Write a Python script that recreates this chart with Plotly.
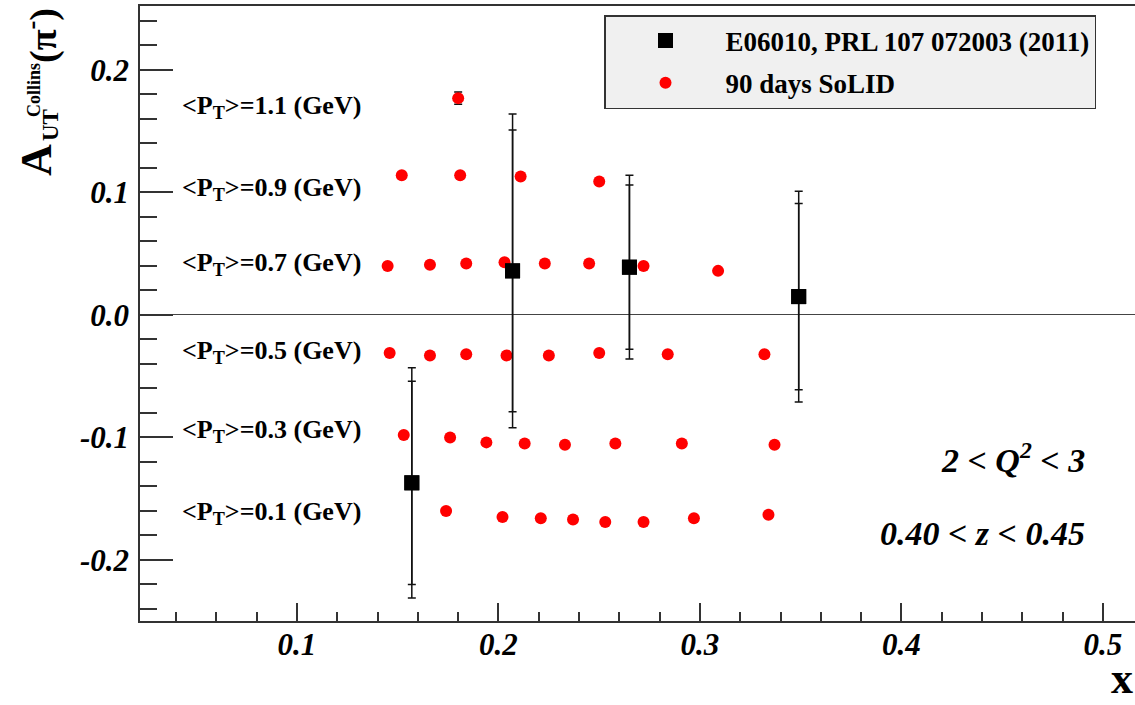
import plotly.graph_objects as go

# E06010 neutron Collins asymmetry (PRL 107 072003)
e06010_x = [0.157, 0.207, 0.265, 0.349]
e06010_y = [-0.137, 0.036, 0.039, 0.015]
e06010_err_stat = [0.083, 0.115, 0.067, 0.076]
e06010_err_tot = [0.094, 0.128, 0.075, 0.086]

# SoLID 90-day projections, one row per <PT> bin
solid_x_pt11 = [0.180]
solid_y_pt11 = [0.177]
solid_err_pt11 = [0.005]

solid_x_pt09 = [0.152, 0.181, 0.211, 0.250]
solid_y_pt09 = [0.114, 0.114, 0.113, 0.109]

solid_x_pt07 = [0.145, 0.166, 0.184, 0.203, 0.223, 0.245, 0.272, 0.309]
solid_y_pt07 = [0.040, 0.041, 0.042, 0.043, 0.042, 0.042, 0.040, 0.036]

solid_x_pt05 = [0.146, 0.166, 0.184, 0.204, 0.225, 0.250, 0.284, 0.332]
solid_y_pt05 = [-0.031, -0.033, -0.032, -0.033, -0.033, -0.031, -0.032, -0.032]

solid_x_pt03 = [0.153, 0.176, 0.194, 0.213, 0.233, 0.258, 0.291, 0.337]
solid_y_pt03 = [-0.098, -0.100, -0.104, -0.105, -0.106, -0.105, -0.105, -0.106]

solid_x_pt01 = [0.174, 0.202, 0.221, 0.237, 0.253, 0.272, 0.297, 0.334]
solid_y_pt01 = [-0.160, -0.165, -0.166, -0.167, -0.169, -0.169, -0.166, -0.163]

pt_label_text = ["1.1", "0.9", "0.7", "0.5", "0.3", "0.1"]
pt_label_y = [0.170, 0.103, 0.042, -0.030, -0.095, -0.162]

y_tick_vals = [-0.2, -0.1, 0.0, 0.1, 0.2]
y_tick_text = ["-0.2", "-0.1", "0.0", "0.1", "0.2"]
x_tick_vals = [0.1, 0.2, 0.3, 0.4, 0.5]
x_tick_text = ["0.1", "0.2", "0.3", "0.4", "0.5"]

SERIF = "Liberation Serif"
AXIS_COL = "#333333"
RED = "#ff0000"

fig = go.Figure()

# SoLID rows
solid_rows = [
    (solid_x_pt09, solid_y_pt09),
    (solid_x_pt07, solid_y_pt07),
    (solid_x_pt05, solid_y_pt05),
    (solid_x_pt03, solid_y_pt03),
    (solid_x_pt01, solid_y_pt01),
]
for i, (xs, ys) in enumerate(solid_rows):
    fig.add_trace(go.Scatter(
        x=xs, y=ys, mode="markers",
        marker=dict(color=RED, size=12, symbol="circle"),
        name="90 days SoLID", legendgroup="solid", legendrank=2,
        showlegend=(i == 0),
    ))
fig.add_trace(go.Scatter(
    x=solid_x_pt11, y=solid_y_pt11, mode="markers",
    marker=dict(color=RED, size=12),
    error_y=dict(type="data", array=solid_err_pt11, color="#111111",
                 thickness=1.5, width=4),
    legendgroup="solid", showlegend=False,
))

# E06010: total uncertainty bars, then statistical bars with the markers
fig.add_trace(go.Scatter(
    x=e06010_x, y=e06010_y, mode="markers",
    marker=dict(color="black", size=15, symbol="square"),
    error_y=dict(type="data", array=e06010_err_tot, color="#111111",
                 thickness=1.5, width=4),
    legendgroup="e06010", showlegend=False,
))
fig.add_trace(go.Scatter(
    x=e06010_x, y=e06010_y, mode="markers",
    marker=dict(color="black", size=15, symbol="square"),
    error_y=dict(type="data", array=e06010_err_stat, color="#111111",
                 thickness=1.5, width=4),
    name="E06010, PRL 107 072003 (2011)", legendgroup="e06010", legendrank=1,
))

# <PT> row labels
for lab, yv in zip(pt_label_text, pt_label_y):
    fig.add_annotation(
        x=0.042, y=yv, xref="x", yref="y", xanchor="left", yanchor="middle",
        text="<b>&lt;P<sub>T</sub>&gt;=" + lab + " (GeV)</b>", showarrow=False,
        font=dict(family=SERIF, size=26, color="black"),
    )

# Pixel-placed text
L, R, T, B = 140, 0, 6, 84
W, H = 1135, 705
pw, ph = W - L - R, H - T - B


def add_px_text(text, px, py, size, angle=0, xanchor="center", yanchor="middle"):
    fig.add_annotation(
        x=(px - L) / pw, y=(H - B - py) / ph, xref="paper", yref="paper",
        xanchor=xanchor, yanchor=yanchor, showarrow=False, textangle=angle,
        text=text, font=dict(family=SERIF, size=size, color="black"),
    )


# kinematic bin labels
add_px_text("<b><i>2 &lt; Q<sup>2</sup> &lt; 3</i></b>", 1087, 458, 34, xanchor="right")
add_px_text("<b><i>0.40 &lt; z &lt; 0.45</i></b>", 1087, 533, 34, xanchor="right")

# axis titles, y title built from pieces so sub/superscript stack
add_px_text("<b>x</b>", 1135, 705, 44, xanchor="right", yanchor="bottom")
add_px_text("<b>A</b>", 37, 160, 44, angle=-90)
add_px_text("<b>UT</b>", 51, 125, 23, angle=-90)
add_px_text("<b>Collins</b>", 34, 90, 18, angle=-90)
add_px_text("<b>(π<sup>-</sup>)</b>", 40, 36, 38, angle=-90)

fig.update_layout(
    width=W, height=H,
    margin=dict(l=L, r=R, t=T, b=B, pad=0),
    plot_bgcolor="white", paper_bgcolor="white",
    font=dict(family=SERIF, color="black"),
    showlegend=True,
    legend=dict(
        x=(604 - L) / pw, y=(H - B - 15) / ph, xanchor="left", yanchor="top",
        bgcolor="#f0f0f0", bordercolor=AXIS_COL, borderwidth=1.5,
        font=dict(family=SERIF, size=27, color="black", weight="bold"),
        itemwidth=110, tracegroupgap=4, traceorder="grouped",
    ),
)
fig.update_xaxes(
    range=[0.0221, 0.5159], showgrid=False, zeroline=False,
    showline=True, linecolor=AXIS_COL, linewidth=1.5, mirror=True,
    ticks="inside", ticklen=18, tickwidth=1.5, tickcolor=AXIS_COL,
    tickvals=x_tick_vals, ticktext=x_tick_text,
    tickfont=dict(family=SERIF, size=31, color="black", weight="bold", style="italic"),
    minor=dict(dtick=0.02, tick0=0, ticks="inside", ticklen=9,
               tickwidth=1.5, tickcolor=AXIS_COL, showgrid=False),
    ticklabelstandoff=-5,
)
fig.update_yaxes(
    range=[-0.2498, 0.2522], showgrid=False,
    zeroline=True, zerolinecolor="#444444", zerolinewidth=1,
    showline=True, linecolor=AXIS_COL, linewidth=1.5,
    ticks="inside", ticklen=33, tickwidth=1.5, tickcolor=AXIS_COL,
    tickvals=y_tick_vals, ticktext=y_tick_text,
    tickfont=dict(family=SERIF, size=31, color="black", weight="bold", style="italic"),
    minor=dict(dtick=0.02, tick0=0, ticks="inside", ticklen=17,
               tickwidth=1.5, tickcolor=AXIS_COL, showgrid=False),
    ticklabelstandoff=3,
)

fig.write_html("out.html")
